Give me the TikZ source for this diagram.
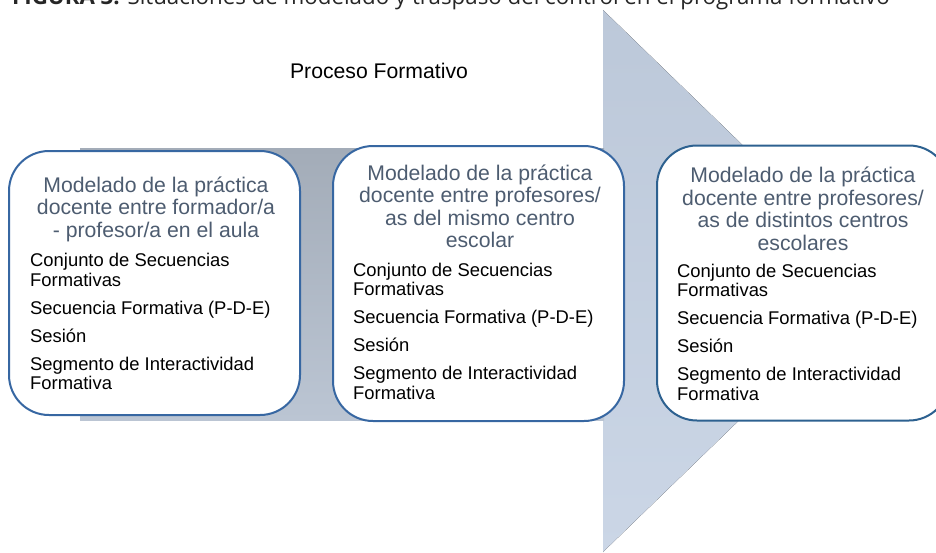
\documentclass[tikz,border=0pt]{standalone}
\usepackage{fontspec}
\setmainfont{Liberation Sans}
\newfontfamily\capfont{Open Sans}
\definecolor{boxline}{HTML}{3767A2}
\definecolor{boxlinedark}{HTML}{2D6190}
\definecolor{headgray}{HTML}{4D5C70}
\definecolor{bandtop}{HTML}{A3ACB8}
\definecolor{bandbot}{HTML}{BBC5D3}
\definecolor{tiptop}{HTML}{BCC8D9}
\definecolor{tipbot}{HTML}{CBD6E6}
\tikzset{
	stagebox/.style={draw=boxline, line width=2pt, fill=white,
		rounded corners=40pt, inner sep=0pt},
	% anchor base = baseline of the last line
	stagehead/.style={anchor=base, align=center, inner sep=0pt,
		text=headgray, font=\fontsize{21.2}{22.5}\selectfont},
	stagebody/.style={anchor=base west, align=left, inner sep=0pt,
		font=\fontsize{18.4}{19.5}\selectfont}
}
\newcommand{\levels}{Conjunto de Secuencias\\Formativas\\[8.5pt]
	Secuencia Formativa (P-D-E)\\[8.5pt]Sesión\\[8.5pt]
	Segmento de Interactividad\\Formativa}
\begin{document}
\begin{tikzpicture}[x=1pt, y=-1pt]
	\useasboundingbox (0,0) rectangle (936,552);
	% big arrow: shaft and head
	\fill[top color=tiptop, bottom color=tipbot] (603,10) -- (883,281) -- (603,552) -- cycle;
	\fill[top color=bandtop, bottom color=bandbot] (80,148) rectangle (604,420);
	% caption (cut at the top) and title
	\node[anchor=base west, inner sep=0pt, text=black!85,
		font=\capfont\fontsize{22.3}{24}\selectfont] (caption) at (12,4)
		{\textbf{FIGURA 3.} Situaciones de modelado y traspaso del control en el programa formativo};
	\node[anchor=base, inner sep=0pt, font=\fontsize{21.2}{24}\selectfont] (title) at (379,78) {Proceso Formativo};
	% the three stages
	\node[stagebox, minimum width=291pt, minimum height=264pt] (box1) at (154.5,283) {};
	\node[stagebox, minimum width=291pt, minimum height=275pt] (box2) at (478.5,283.5) {};
	\node[stagebox, draw=boxlinedark, minimum width=292pt, minimum height=275pt] (box3) at (803,283) {};
	\node[stagehead] (head1) at (156,237) {Modelado de la práctica\\docente entre formador/a\\- profesor/a en el aula};
	\node[stagehead] (head2) at (480,247.5) {Modelado de la práctica\\docente entre profesores/\\as del mismo centro\\escolar};
	\node[stagehead] (head3) at (803,250) {Modelado de la práctica\\docente entre profesores/\\as de distintos centros\\escolares};
	\node[stagebody] (body1) at (30,389.7) {\levels};
	\node[stagebody] (body2) at (353,399) {\levels};
	\node[stagebody] (body3) at (677,400) {\levels};
\end{tikzpicture}
\end{document}
